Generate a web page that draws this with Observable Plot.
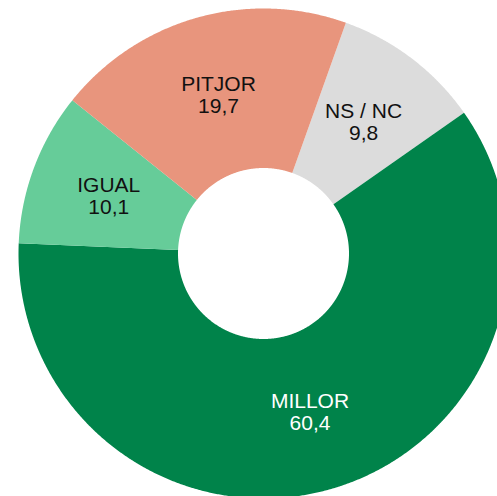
<!DOCTYPE html>
<html>
<head>
<meta charset="utf-8">
<script src="https://cdn.jsdelivr.net/npm/d3@7"></script>
<script src="https://cdn.jsdelivr.net/npm/@observablehq/plot@0.6"></script>
<style>
  html, body { margin: 0; padding: 0; background: #ffffff; }
  #chart svg { display: block; }
</style>
</head>
<body>
<div id="chart"></div>
<script>
// Data
const categories = ["NS / NC", "MILLOR", "IGUAL", "PITJOR"];
const values = [9.8, 60.4, 10.1, 19.7];
const valueLabels = ["9,8", "60,4", "10,1", "19,7"];

// Styles
const sliceColors = ["#dcdcdc", "#00834a", "#66cc99", "#e8957d"];
const textColors = ["#111111", "#ffffff", "#111111", "#111111"];

// Layout
const W = 497, H = 496;
const cx = 263, cy = 253, rOuter = 245, rInner = 85.5;
const start = 19.65 * Math.PI / 180;

const pie = d3.pie().sort(null).startAngle(start).endAngle(start + 2 * Math.PI);
const arcs = pie(values);

const polys = [];
arcs.forEach((a, i) => {
  const n = Math.max(4, Math.ceil((a.endAngle - a.startAngle) / 0.005));
  for (let k = 0; k <= n; k++) {
    const t = a.startAngle + (a.endAngle - a.startAngle) * k / n;
    polys.push({cat: categories[i], x: cx + rOuter * Math.sin(t), y: cy - rOuter * Math.cos(t)});
  }
  for (let k = n; k >= 0; k--) {
    const t = a.startAngle + (a.endAngle - a.startAngle) * k / n;
    polys.push({cat: categories[i], x: cx + rInner * Math.sin(t), y: cy - rInner * Math.cos(t)});
  }
});

const rMid = (rOuter + rInner) / 2;
const labelData = arcs.map((a, i) => {
  const m = (a.startAngle + a.endAngle) / 2;
  return {
    cat: categories[i],
    text: categories[i] + "\n" + valueLabels[i],
    x: cx + rMid * Math.sin(m),
    y: cy - rMid * Math.cos(m),
    tc: textColors[i]
  };
});

const chart = Plot.plot({
  width: W,
  height: H,
  margin: 0,
  x: {domain: [0, W], range: [0, W], axis: null},
  y: {domain: [0, H], range: [0, H], axis: null},
  color: {domain: categories, range: sliceColors},
  style: {background: "#ffffff", fontFamily: "'Liberation Sans', Arial, sans-serif"},
  marks: [
    Plot.line(polys, {x: "x", y: "y", z: "cat", fill: "cat", stroke: null, curve: "linear-closed"}),
    Plot.text(labelData, {
      x: "x", y: "y", text: "text",
      fill: d => d.tc,
      fontSize: 21,
      lineHeight: 1.05,
      textAnchor: "middle",
      fontFamily: "'Liberation Sans', Arial, sans-serif"
    })
  ]
});

document.getElementById("chart").appendChild(chart);
</script>
</body>
</html>
